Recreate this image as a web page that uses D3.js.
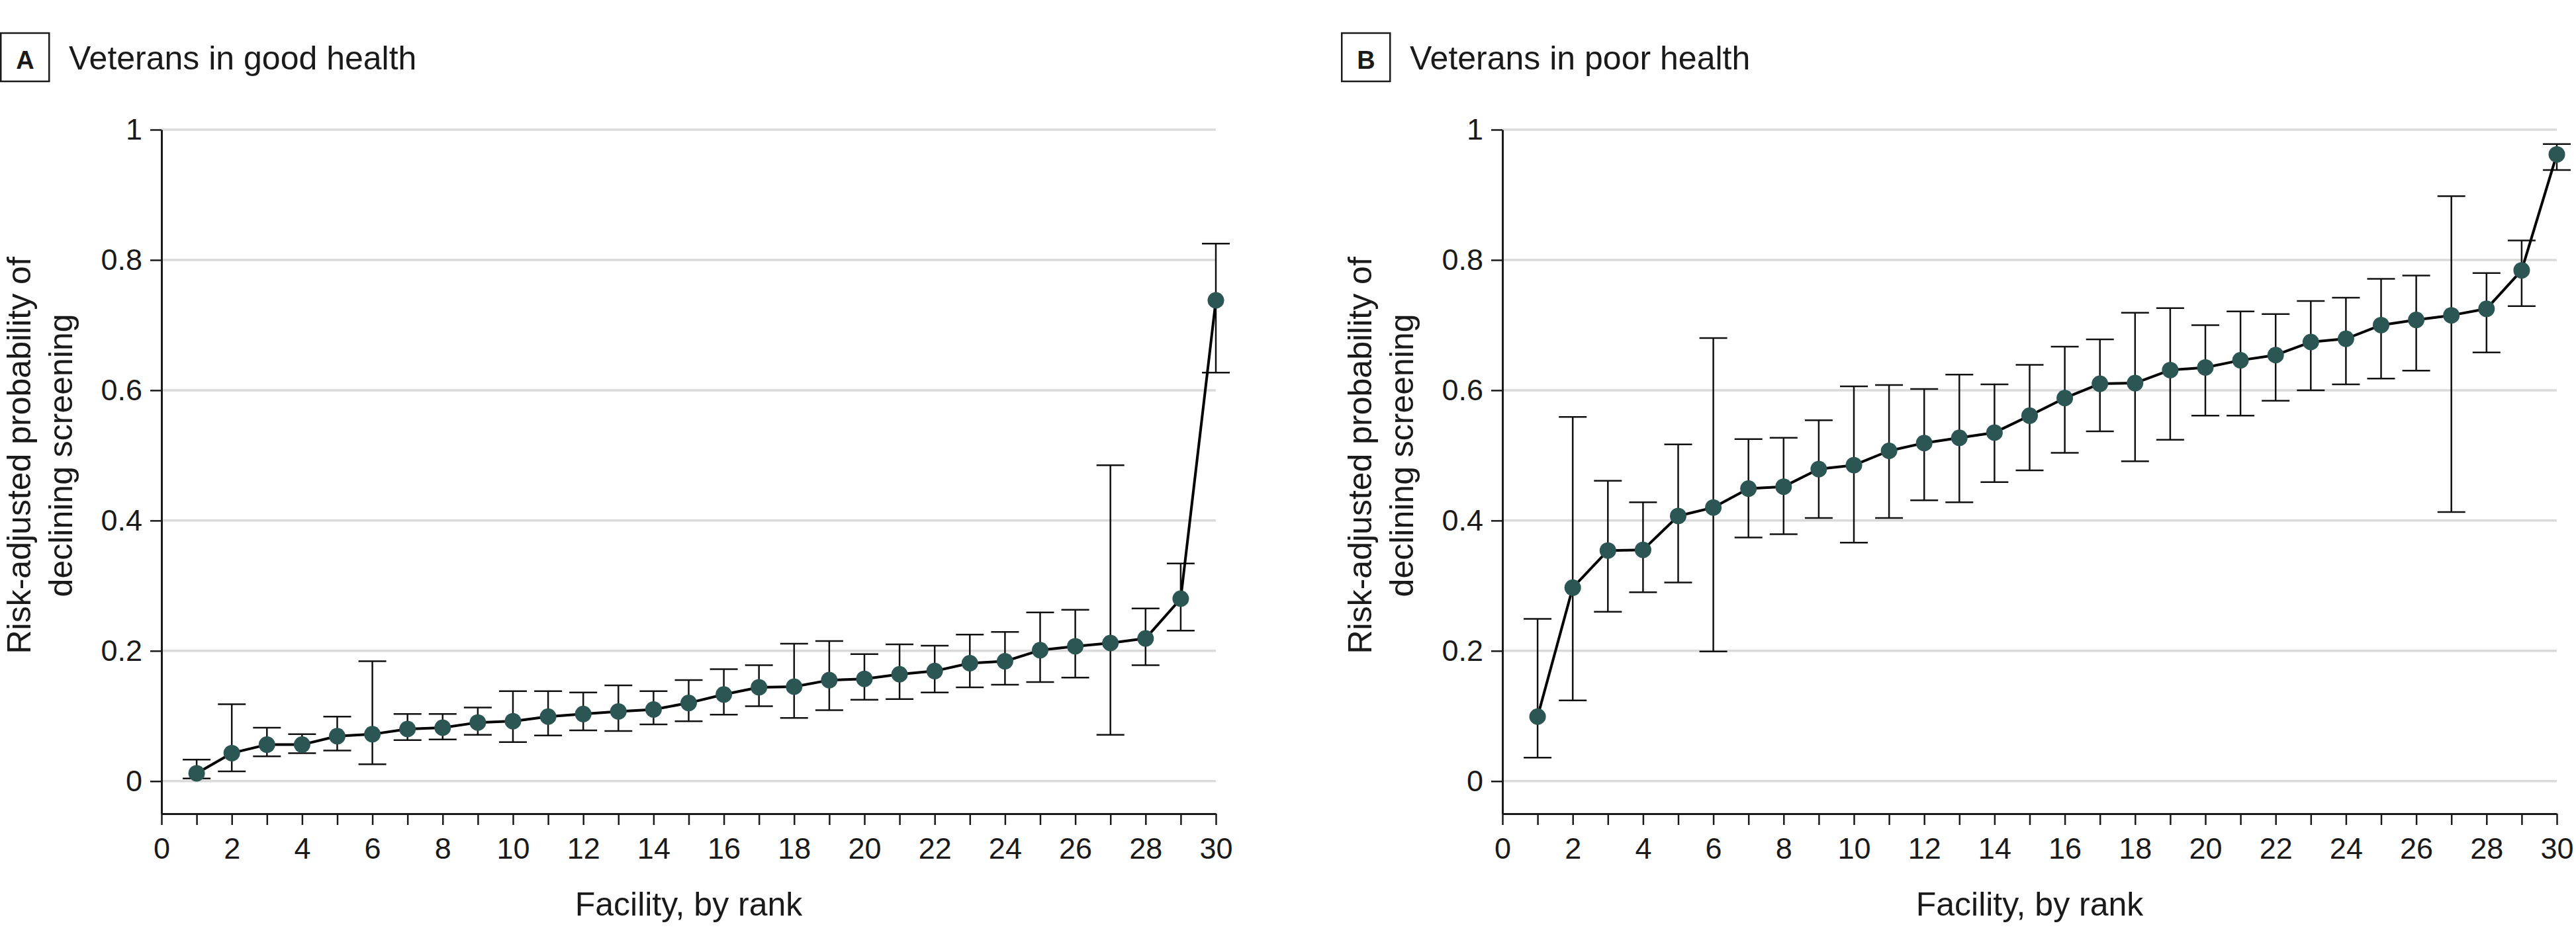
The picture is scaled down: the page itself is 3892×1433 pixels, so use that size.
<!DOCTYPE html>
<html>
<head>
<meta charset="utf-8">
<script src="https://cdn.jsdelivr.net/npm/d3@7/dist/d3.min.js"></script>
<style>
  html, body { margin: 0; padding: 0; background: #ffffff; }
  svg { display: block; }
  text { font-family: "Liberation Sans", Arial, sans-serif; fill: #1a1a1a; }
</style>
</head>
<body>
<svg id="chart" width="3892" height="1433"></svg>
<script>
// ---------------- DATA ----------------
const ranks = d3.range(1, 31);
const panelLetters = ["A", "B"];
const panelTitles = ["Veterans in good health", "Veterans in poor health"];
const yAxisTitleLines = ["Risk-adjusted probability of", "declining screening"];
const xAxisTitle = "Facility, by rank";
const yTickValues = [0, 0.2, 0.4, 0.6, 0.8, 1];
const yTickLabels = ["0", "0.2", "0.4", "0.6", "0.8", "1"];
const xTickValues = d3.range(0, 31);
const xTickLabels = d3.range(0, 31).map(d => (d % 2 === 0 ? String(d) : ""));

// Panel A: veterans in good health
const goodRate = [0.012,0.043,0.056,0.056,0.069,0.072,0.080,0.082,0.090,0.092,0.099,0.103,0.107,0.110,0.120,0.133,0.144,0.145,0.155,0.157,0.164,0.169,0.181,0.184,0.201,0.207,0.212,0.219,0.280,0.738];
const goodLow  = [0.004,0.015,0.038,0.043,0.047,0.026,0.063,0.064,0.071,0.060,0.070,0.078,0.077,0.087,0.092,0.102,0.115,0.097,0.109,0.125,0.126,0.136,0.144,0.148,0.152,0.159,0.071,0.178,0.231,0.627];
const goodHigh = [0.033,0.118,0.082,0.072,0.099,0.184,0.103,0.103,0.113,0.138,0.138,0.136,0.147,0.138,0.155,0.172,0.178,0.211,0.215,0.195,0.210,0.208,0.225,0.229,0.259,0.263,0.485,0.265,0.334,0.825];

// Panel B: veterans in poor health
const poorRate = [0.099,0.297,0.354,0.355,0.407,0.420,0.449,0.452,0.479,0.485,0.507,0.519,0.527,0.535,0.561,0.588,0.610,0.611,0.631,0.635,0.646,0.654,0.674,0.679,0.700,0.708,0.715,0.725,0.784,0.962];
const poorLow  = [0.036,0.124,0.260,0.290,0.305,0.199,0.374,0.379,0.404,0.366,0.404,0.431,0.428,0.459,0.477,0.504,0.537,0.491,0.524,0.561,0.561,0.584,0.600,0.609,0.618,0.630,0.413,0.658,0.729,0.938];
const poorHigh = [0.249,0.559,0.461,0.428,0.517,0.680,0.525,0.527,0.554,0.606,0.608,0.602,0.624,0.609,0.639,0.667,0.678,0.719,0.726,0.700,0.721,0.717,0.737,0.742,0.771,0.776,0.898,0.780,0.830,0.978];

// ---------------- LAYOUT ----------------
const svg = d3.select("#chart");
svg.append("rect").attr("width", 3892).attr("height", 1433).attr("fill", "#ffffff");

const plotTop = 196, plotBottom = 1230, plotWidth = 1593;
const panelLefts = [244, 2270];
const pointColor = "#2b5654";
const gridColor = "#dadada";

const y = d3.scaleLinear().domain([-0.05, 1]).range([plotBottom, plotTop]);

const panels = [
  { rate: goodRate, low: goodLow, high: goodHigh },
  { rate: poorRate, low: poorLow, high: poorHigh }
];

panels.forEach((p, i) => {
  const left = panelLefts[i];
  const x = d3.scaleLinear().domain([0, 30]).range([left, left + plotWidth]);
  const g = svg.append("g");

  const rows = ranks.map((r, k) => ({ rank: r, rate: p.rate[k], low: p.low[k], high: p.high[k] }));

  // gridlines
  g.append("g").selectAll("line").data(yTickValues).join("line")
    .attr("x1", x(0)).attr("x2", x(30))
    .attr("y1", d => y(d)).attr("y2", d => y(d))
    .attr("stroke", gridColor).attr("stroke-width", 3.5);

  // y axis
  const yAxis = d3.axisLeft(y).tickValues(yTickValues)
    .tickFormat((d, k) => yTickLabels[k]).tickSize(17).tickSizeOuter(0).tickPadding(12);
  const ya = g.append("g").attr("transform", `translate(${x(0)},0)`).call(yAxis);
  ya.select(".domain").attr("stroke", "#1a1a1a").attr("stroke-width", 3);
  ya.selectAll(".tick line").attr("stroke", "#1a1a1a").attr("stroke-width", 2.5);
  ya.selectAll(".tick text").attr("font-size", 45).attr("fill", "#1a1a1a")
    .attr("font-family", "'Liberation Sans', Arial, sans-serif");

  // x axis
  const xAxis = d3.axisBottom(x).tickValues(xTickValues)
    .tickFormat((d, k) => xTickLabels[k]).tickSize(17).tickSizeOuter(0).tickPadding(19);
  const xa = g.append("g").attr("transform", `translate(0,${plotBottom})`).call(xAxis);
  xa.select(".domain").attr("stroke", "#1a1a1a").attr("stroke-width", 3);
  xa.selectAll(".tick line").attr("stroke", "#1a1a1a").attr("stroke-width", 2.5);
  xa.selectAll(".tick text").attr("font-size", 45).attr("fill", "#1a1a1a")
    .attr("font-family", "'Liberation Sans', Arial, sans-serif");

  // error bars
  const capHalf = 21;
  const eb = g.append("g").selectAll("g").data(rows).join("g");
  eb.append("line")
    .attr("x1", d => x(d.rank)).attr("x2", d => x(d.rank))
    .attr("y1", d => y(d.low)).attr("y2", d => y(d.high))
    .attr("stroke", "#111").attr("stroke-width", 2.5);
  eb.append("line")
    .attr("x1", d => x(d.rank) - capHalf).attr("x2", d => x(d.rank) + capHalf)
    .attr("y1", d => y(d.high)).attr("y2", d => y(d.high))
    .attr("stroke", "#111").attr("stroke-width", 2.5);
  eb.append("line")
    .attr("x1", d => x(d.rank) - capHalf).attr("x2", d => x(d.rank) + capHalf)
    .attr("y1", d => y(d.low)).attr("y2", d => y(d.low))
    .attr("stroke", "#111").attr("stroke-width", 2.5);

  // connecting line
  const line = d3.line().x(d => x(d.rank)).y(d => y(d.rate));
  g.append("path").datum(rows).attr("d", line)
    .attr("fill", "none").attr("stroke", "#000").attr("stroke-width", 4)
    .attr("stroke-linejoin", "round");

  // points
  g.append("g").selectAll("circle").data(rows).join("circle")
    .attr("cx", d => x(d.rank)).attr("cy", d => y(d.rate)).attr("r", 12.5)
    .attr("fill", pointColor);

  // panel label box + title
  const boxLeft = left - 244;
  g.append("rect").attr("x", boxLeft + 1.25).attr("y", 50).attr("width", 73).attr("height", 73)
    .attr("fill", "none").attr("stroke", "#1a1a1a").attr("stroke-width", 2.5);
  g.append("text").attr("x", boxLeft + 38).attr("y", 104).attr("text-anchor", "middle")
    .attr("font-size", 38).attr("font-weight", "bold").text(panelLetters[i]);
  g.append("text").attr("x", left - 140).attr("y", 105).attr("font-size", 50)
    .text(panelTitles[i]);

  // y axis title (two lines, rotated)
  const yMid = (y(0) + y(1)) / 2;
  yAxisTitleLines.forEach((t, k) => {
    const bx = left - 198 + k * 63;
    g.append("text").attr("transform", `translate(${bx},${yMid}) rotate(-90)`)
      .attr("text-anchor", "middle").attr("font-size", 50).text(t);
  });

  // x axis title
  g.append("text").attr("x", (x(0) + x(30)) / 2).attr("y", 1384)
    .attr("text-anchor", "middle").attr("font-size", 50).text(xAxisTitle);
});
</script>
</body>
</html>
